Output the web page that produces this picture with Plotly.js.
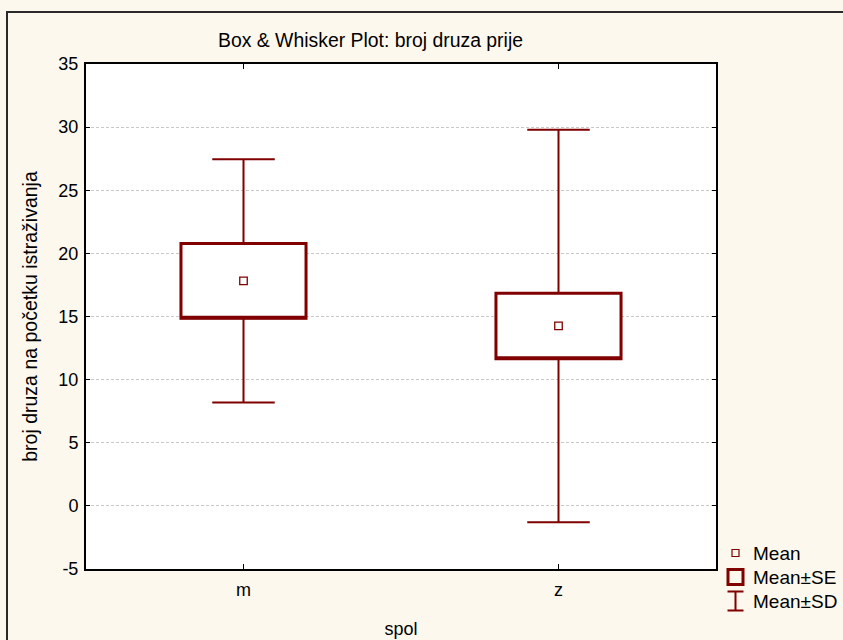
<!DOCTYPE html>
<html>
<head>
<meta charset="utf-8">
<script src="https://cdn.plot.ly/plotly-3.0.1.min.js"></script>
<style>html,body{margin:0;padding:0;background:#fdf8ee;}</style>
</head>
<body>
<div id="chart" style="width:843px;height:640px;"></div>
<script>
// ---- data ----
const categories = ['m', 'z'];
const means = [17.82, 14.25];
const stdErrs = [2.96, 2.60];
const stdDevs = [9.64, 15.54];
const yTickVals = [-5, 0, 5, 10, 15, 20, 25, 30, 35];
const legendLabels = ['Mean', 'Mean\u00b1SE', 'Mean\u00b1SD'];

// ---- derived arrays for the library ----
const seLow = means.map((m, i) => m - stdErrs[i]);
const seHigh = means.map((m, i) => m + stdErrs[i]);
const sdLow = means.map((m, i) => m - stdDevs[i]);
const sdHigh = means.map((m, i) => m + stdDevs[i]);

const RED = '#800000';
const FONT = 'Liberation Sans, Arial, sans-serif';

// plot-area pixel geometry
const L = 86, R = 716, T = 64, B = 569;
const W = 843, H = 640;
const px = x => (x - L) / (R - L);
const py = y => (B - y) / (B - T);

const traces = [
  { // whiskers (Mean±SD)
    type: 'box', x: categories,
    q1: seLow, median: seLow, q3: seHigh,
    lowerfence: sdLow, upperfence: sdHigh,
    width: 0.397, whiskerwidth: 0.5,
    line: {color: RED, width: 2}, fillcolor: '#ffffff',
    hoverinfo: 'skip', showlegend: false
  },
  { // box (Mean±SE)
    type: 'box', x: categories,
    q1: seLow, median: seLow, q3: seHigh,
    lowerfence: seLow, upperfence: seHigh,
    width: 0.397, whiskerwidth: 0,
    line: {color: RED, width: 3}, fillcolor: '#ffffff',
    hoverinfo: 'skip', showlegend: false
  },
  { // mean
    type: 'scatter', mode: 'markers', x: categories, y: means,
    marker: {symbol: 'square-open', size: 7.5, color: RED, line: {width: 1.3, color: RED}},
    showlegend: false
  }
];

// legend built from shapes + annotations (paper coords)
const legX = 735.5, legTextX = 751;
const legY = [553, 577, 601];
const shapes = [
  { // outer frame
    type: 'rect', xref: 'paper', yref: 'paper',
    x0: px(7), x1: px(880), y0: py(12), y1: py(680),
    line: {color: '#2a2a2a', width: 2}, fillcolor: 'rgba(0,0,0,0)', layer: 'below'
  },
  { // Mean icon
    type: 'rect', xref: 'paper', yref: 'paper',
    x0: px(legX - 3.5), x1: px(legX + 3.5), y0: py(legY[0] + 3.5), y1: py(legY[0] - 3.5),
    line: {color: RED, width: 1.2}, fillcolor: 'rgba(0,0,0,0)'
  },
  { // SE icon
    type: 'rect', xref: 'paper', yref: 'paper',
    x0: px(legX - 7.5), x1: px(legX + 7.5), y0: py(legY[1] + 7.5), y1: py(legY[1] - 7.5),
    line: {color: RED, width: 3}, fillcolor: 'rgba(0,0,0,0)'
  },
  { // SD icon stem
    type: 'line', xref: 'paper', yref: 'paper',
    x0: px(legX), x1: px(legX), y0: py(legY[2] - 9.5), y1: py(legY[2] + 9.5),
    line: {color: RED, width: 2}
  },
  { type: 'line', xref: 'paper', yref: 'paper',
    x0: px(legX - 8), x1: px(legX + 8), y0: py(legY[2] - 9.5), y1: py(legY[2] - 9.5),
    line: {color: RED, width: 2} },
  { type: 'line', xref: 'paper', yref: 'paper',
    x0: px(legX - 8), x1: px(legX + 8), y0: py(legY[2] + 9.5), y1: py(legY[2] + 9.5),
    line: {color: RED, width: 2} }
];
const annotations = legendLabels.map((t, i) => ({
  text: t, xref: 'paper', yref: 'paper', x: px(legTextX), y: py(legY[i]),
  xanchor: 'left', yanchor: 'middle', showarrow: false,
  font: {family: FONT, size: 19, color: '#000'}
}));

const layout = {
  width: W, height: H,
  margin: {l: L, r: W - R, t: T, b: H - B, pad: 0},
  paper_bgcolor: '#fdf8ee', plot_bgcolor: '#ffffff',
  font: {family: FONT, size: 18, color: '#000'},
  title: {text: 'Box &amp; Whisker Plot: broj druza prije', x: 370.5 / W, xanchor: 'center',
          y: 1 - 40 / H, yanchor: 'middle', font: {family: FONT, size: 19.4, color: '#000'}},
  boxmode: 'overlay',
  showlegend: false,
  xaxis: {
    type: 'category', range: [-0.5, 1.5], showgrid: false, zeroline: false,
    showline: true, linecolor: '#000', linewidth: 2, mirror: 'ticks',
    ticks: 'inside', ticklen: 5, tickwidth: 1, tickcolor: '#000',
    tickfont: {family: FONT, size: 18}, ticklabelstandoff: 3,
    title: {text: 'spol', font: {family: FONT, size: 18}, standoff: 24}
  },
  yaxis: {
    range: [-5, 35], tickvals: yTickVals, ticktext: yTickVals.map(String),
    showgrid: true, gridcolor: '#c8c8c8', griddash: '3px,2px', gridwidth: 1, zeroline: false,
    showline: true, linecolor: '#000', linewidth: 2, mirror: 'ticks',
    ticks: 'inside', ticklen: 4, tickwidth: 1, tickcolor: '#000',
    tickfont: {family: FONT, size: 18}, ticklabelstandoff: 2,
    title: {text: 'broj druza na početku istraživanja', font: {family: FONT, size: 19.5}, standoff: 16}
  },
  shapes: shapes,
  annotations: annotations
};

Plotly.newPlot('chart', traces, layout, {displayModeBar: false, staticPlot: true});
</script>
</body>
</html>
